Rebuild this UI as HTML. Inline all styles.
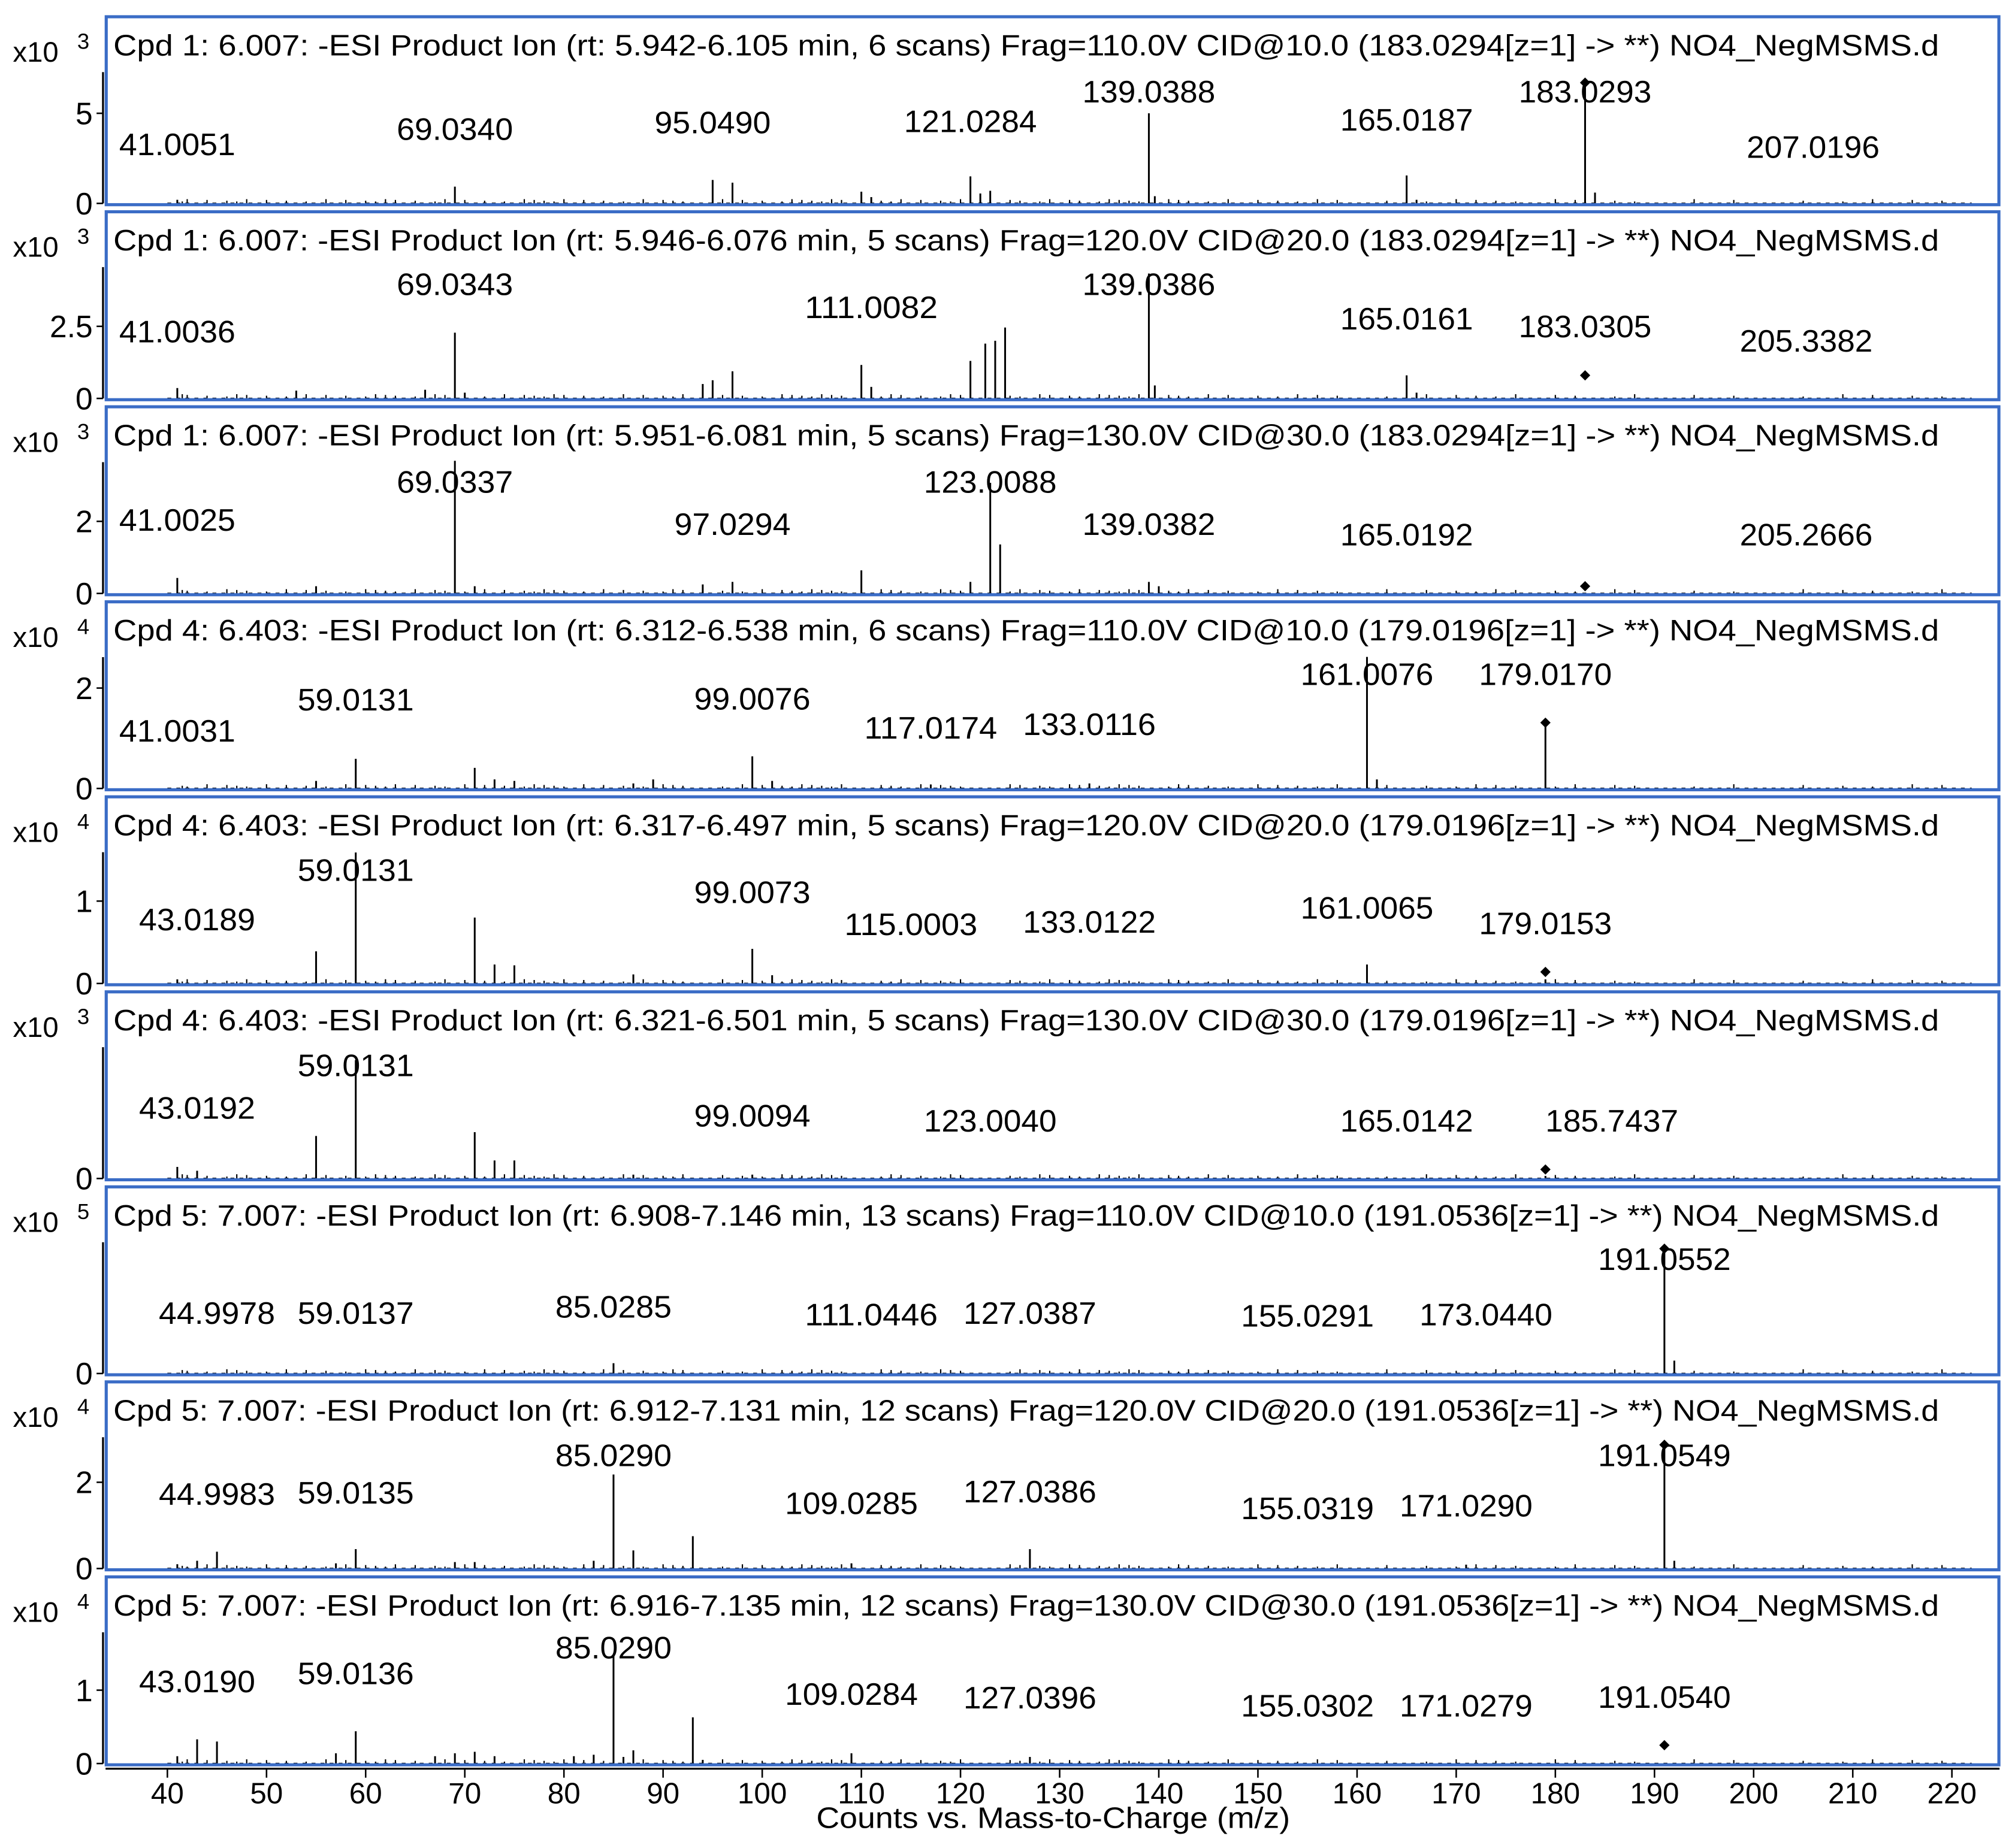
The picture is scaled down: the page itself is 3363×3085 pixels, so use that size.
<!DOCTYPE html>
<html><head><meta charset="utf-8"><style>
html,body{margin:0;padding:0;background:#fff;}
svg{display:block;font-family:"Liberation Sans",Arial,sans-serif;}
</style></head><body>
<svg id="chart" width="3363" height="3085" viewBox="0 0 1565 1435.6" xmlns="http://www.w3.org/2000/svg"></svg>
<script>
const titles = [
"Cpd 1: 6.007: -ESI Product Ion (rt: 5.942-6.105 min, 6 scans) Frag=110.0V CID@10.0 (183.0294[z=1] -> **) NO4_NegMSMS.d",
"Cpd 1: 6.007: -ESI Product Ion (rt: 5.946-6.076 min, 5 scans) Frag=120.0V CID@20.0 (183.0294[z=1] -> **) NO4_NegMSMS.d",
"Cpd 1: 6.007: -ESI Product Ion (rt: 5.951-6.081 min, 5 scans) Frag=130.0V CID@30.0 (183.0294[z=1] -> **) NO4_NegMSMS.d",
"Cpd 4: 6.403: -ESI Product Ion (rt: 6.312-6.538 min, 6 scans) Frag=110.0V CID@10.0 (179.0196[z=1] -> **) NO4_NegMSMS.d",
"Cpd 4: 6.403: -ESI Product Ion (rt: 6.317-6.497 min, 5 scans) Frag=120.0V CID@20.0 (179.0196[z=1] -> **) NO4_NegMSMS.d",
"Cpd 4: 6.403: -ESI Product Ion (rt: 6.321-6.501 min, 5 scans) Frag=130.0V CID@30.0 (179.0196[z=1] -> **) NO4_NegMSMS.d",
"Cpd 5: 7.007: -ESI Product Ion (rt: 6.908-7.146 min, 13 scans) Frag=110.0V CID@10.0 (191.0536[z=1] -> **) NO4_NegMSMS.d",
"Cpd 5: 7.007: -ESI Product Ion (rt: 6.912-7.131 min, 12 scans) Frag=120.0V CID@20.0 (191.0536[z=1] -> **) NO4_NegMSMS.d",
"Cpd 5: 7.007: -ESI Product Ion (rt: 6.916-7.135 min, 12 scans) Frag=130.0V CID@30.0 (191.0536[z=1] -> **) NO4_NegMSMS.d"
];
const exponents = [3,3,3,4,4,3,5,4,4];
const yTicks = [[0,5],[0,2.5],[0,2],[0,2],[0,1],[0],[0],[0,2],[0,1]];
const yUnitsPx = [14,22.4,28,39,64,20,20,33.5,57];
const xTicks = [40,50,60,70,80,90,100,110,120,130,140,150,160,170,180,190,200,210,220];
const peaks = [
 [[41,0.2],[69,0.93],[95,1.3],[97,1.15],[110,0.65],[111,0.35],[121,1.5],[122,0.55],[123,0.7],[139,5.0],[139.6,0.4],[165,1.55],[166,0.2],[183,6.7],[184,0.6]],
 [[41,0.36],[53,0.27],[66,0.3],[69,2.28],[70,0.2],[94,0.5],[95,0.63],[97,0.94],[110,1.16],[111,0.4],[121,1.3],[122.5,1.9],[123.5,2.0],[124.5,2.46],[139,4.33],[139.6,0.45],[165,0.8],[166,0.2]],
 [[41,0.43],[55,0.2],[69,3.68],[71,0.2],[94,0.25],[97,0.32],[110,0.64],[121,0.32],[123,3.07],[124,1.36],[139,0.32],[140,0.2]],
 [[55,0.15],[59,0.59],[71,0.41],[73,0.18],[75,0.15],[87,0.1],[89,0.18],[99,0.64],[101,0.15],[117,0.08],[133,0.1],[161,2.62],[162,0.18],[179,1.31]],
 [[41,0.05],[55,0.39],[59,1.59],[71,0.8],[73,0.23],[75,0.22],[87,0.11],[99,0.42],[101,0.1],[161,0.23],[179,0.05]],
 [[41,0.45],[43,0.3],[55,1.65],[59,4.6],[71,1.8],[73,0.7],[75,0.7],[87,0.15],[99,0.15],[179,0.1]],
 [[85,0.4],[191,4.85],[192,0.5]],
 [[41,0.1],[43,0.18],[45,0.39],[57,0.12],[59,0.45],[69,0.15],[71,0.15],[83,0.18],[85,2.18],[87,0.42],[93,0.75],[109,0.12],[127,0.45],[171,0.09],[191,2.87],[192,0.18]],
 [[41,0.1],[43,0.33],[45,0.3],[57,0.14],[59,0.44],[67,0.1],[69,0.14],[71,0.16],[73,0.1],[81,0.1],[83,0.12],[85,1.49],[86,0.09],[87,0.18],[93,0.63],[94,0.05],[109,0.14],[127,0.09]]
];
const precursor = [[183,6.7],[183,0.8],[183,0.2],[179,1.31],[179,0.14],[179,0.35],[191,4.85],[191,2.87],[191,0.25]];
const labelText = [
 ["41.0051","69.0340","95.0490","121.0284","139.0388","165.0187","183.0293","207.0196"],
 ["41.0036","69.0343","111.0082","139.0386","165.0161","183.0305","205.3382"],
 ["41.0025","69.0337","97.0294","123.0088","139.0382","165.0192","205.2666"],
 ["41.0031","59.0131","99.0076","117.0174","133.0116","161.0076","179.0170"],
 ["43.0189","59.0131","99.0073","115.0003","133.0122","161.0065","179.0153"],
 ["43.0192","59.0131","99.0094","123.0040","165.0142","185.7437"],
 ["44.9978","59.0137","85.0285","111.0446","127.0387","155.0291","173.0440","191.0552"],
 ["44.9983","59.0135","85.0290","109.0285","127.0386","155.0319","171.0290","191.0549"],
 ["43.0190","59.0136","85.0290","109.0284","127.0396","155.0302","171.0279","191.0540"]
];
const labelMz = [
 [41,69,95,121,139,165,183,206],
 [41,69,111,139,165,183,205.3],
 [41,69,97,123,139,165,205.3],
 [41,59,99,117,133,161,179],
 [43,59,99,115,133,161,179],
 [43,59,99,123,165,185.7],
 [45,59,85,111,127,155,173,191],
 [45,59,85,109,127,155,171,191],
 [43,59,85,109,127,155,171,191]
];
const labelLevel = [
 [3.29,4.14,4.5,4.57,6.21,4.64,6.21,3.14],
 [2.32,3.97,3.17,3.97,2.77,2.5,2.0],
 [2.04,3.1,1.93,3.1,1.93,1.64,1.64],
 [1.15,1.77,1.79,1.21,1.28,2.28,2.28],
 [0.78,1.38,1.11,0.72,0.75,0.92,0.73],
 [2.75,4.4,2.45,2.25,2.25,2.25],
 [2.35,2.35,2.6,2.3,2.35,2.25,2.3,4.45],
 [1.73,1.76,2.63,1.52,1.79,1.4,1.46,2.63],
 [1.12,1.23,1.58,0.95,0.9,0.79,0.79,0.91]
];
const noiseMz = [41.5,42,44,46,47,48,50,52,54,56,58,60,61,62,63,65,67,68,70,72,74,76,77,78,79,80,82,84,86,88,90,91,92,96,98,100,102,103,104,105,106,107,108,112,113,114,116,118,119,120,125,126,128,129,131,132,134,135,136,137,138,141,142,143,145,147,150,152,154,156,158,163,167,170,172,174,176,180,182,186,188,194,198,205,209,212,216,219];

const NS="http://www.w3.org/2000/svg";
const svg=document.getElementById('chart');
function mk(tag,attrs,parent){const e=document.createElementNS(NS,tag);for(const k in attrs)e.setAttribute(k,attrs[k]);(parent||svg).appendChild(e);return e;}
const X0=130, XPX=7.7;
function xs(mz){return X0+(mz-40)*XPX;}
function panelTop(i){return 12+i*151.5;}
function zeroY(i){return panelTop(i)+146;}
function ys(i,v){return zeroY(i)-v*yUnitsPx[i];}

for(let i=0;i<9;i++){
  const g=mk('g',{});
  
  
  const top=panelTop(i), z=zeroY(i);
  // baseline noise
  noiseMz.forEach((m,j)=>{
    const n=mk('line',{x1:xs(m),x2:xs(m),y1:z,y2:z-1.5-((j*7+i*3)%4)*0.6,stroke:'#000','stroke-width':1},g);
    
    
  });
  mk('line',{x1:xs(40),x2:xs(222),y1:z-0.3,y2:z-0.3,stroke:'#000','stroke-width':0.6,'stroke-dasharray':'3 4'},g);
  // peaks
  peaks[i].forEach(p=>{
    const l=mk('line',{x1:xs(p[0]),x2:xs(p[0]),y1:z,y2:ys(i,p[1]),stroke:'#000','stroke-width':1.4},g);
    
    
  });
  // precursor diamond
  const pc=precursor[i], px=xs(pc[0]), py=ys(i,pc[1]);
  const d=mk('path',{d:`M${px} ${py-4}L${px+4} ${py}L${px} ${py+4}L${px-4} ${py}Z`,fill:'#000'},g);
  
  
  // labels
  labelText[i].forEach((t,j)=>{
    const tx=mk('text',{x:xs(labelMz[i][j]),y:ys(i,labelLevel[i][j])+8.5,'text-anchor':'middle','font-size':24,textLength:t.length*12.9,lengthAdjust:'spacingAndGlyphs',fill:'#000'},g);
    tx.textContent=t;
    
    
  });
  // y axis
  mk('line',{x1:80,x2:80,y1:top+44,y2:z,stroke:'#000','stroke-width':1.5},g);
  yTicks[i].forEach(v=>{
    const y=ys(i,v);
    mk('line',{x1:75,x2:80,y1:y,y2:y,stroke:'#000','stroke-width':1.2},g);
    const tl=mk('text',{x:72,y:y+8.5,'text-anchor':'end','font-size':24,fill:'#000'},g);
    tl.textContent=String(v);
    
    
  });
  const ex=mk('text',{x:10,y:top+36,'font-size':22,fill:'#000'},g);
  ex.textContent='x10';
  
  
  const ex2=mk('text',{x:60,y:top+26,'font-size':17,fill:'#000'},g);
  ex2.textContent=String(exponents[i]);
  
  
  // border
  const b=mk('rect',{x:82.5,y:top+1,width:1470,height:146,fill:'none',stroke:'#3a6cc6','stroke-width':2.4},g);
  
  
  const tt=mk('text',{x:88,y:top+31,'font-size':23,textLength:1418,lengthAdjust:'spacingAndGlyphs',fill:'#000'},g);
  tt.textContent=titles[i];
  
  
}
// x axis
const ax=mk('g',{});


mk('line',{x1:82,x2:1553,y1:1374,y2:1374,stroke:'#000','stroke-width':1.5},ax);
xTicks.forEach(t=>{
  mk('line',{x1:xs(t),x2:xs(t),y1:1374,y2:1381,stroke:'#000','stroke-width':1.2},ax);
  const l=mk('text',{x:xs(t),y:1401,'text-anchor':'middle','font-size':23,fill:'#000'},ax);
  l.textContent=String(t);
  
  
});
const xt=mk('text',{x:818,y:1420,'text-anchor':'middle','font-size':23,textLength:368,lengthAdjust:'spacingAndGlyphs',fill:'#000'},ax);
xt.textContent='Counts vs. Mass-to-Charge (m/z)';


</script>
</body></html>
